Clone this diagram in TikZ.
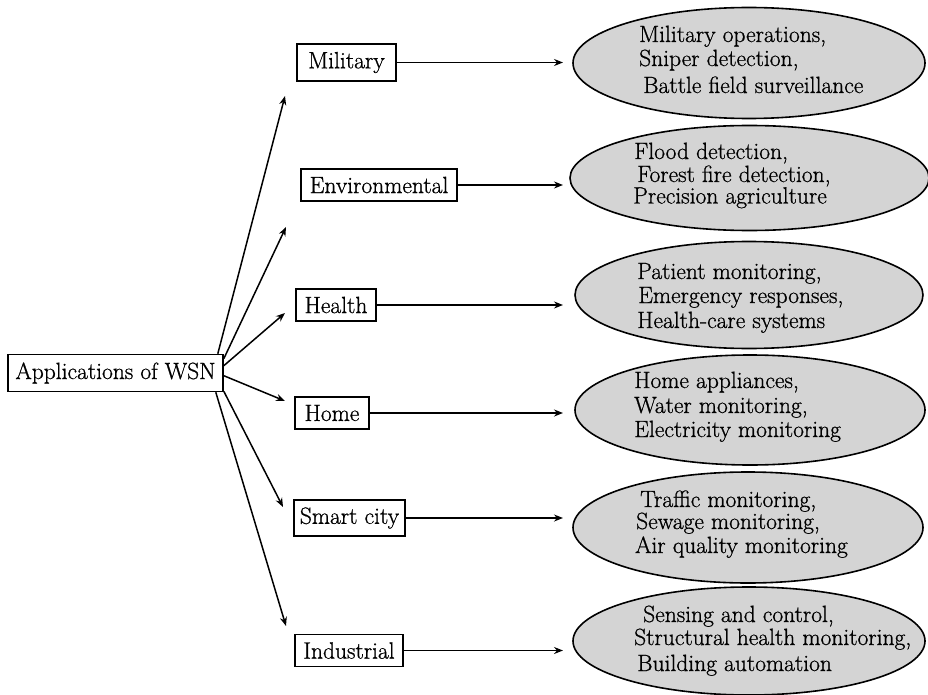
\documentclass[tikz,border=0pt]{standalone}
\usepackage{fontspec}
\setmainfont{Latin Modern Roman}[FakeBold=0.8]
\usetikzlibrary{arrows.meta,shapes.geometric}
\begin{document}
\begin{tikzpicture}[x=1pt,y=-1pt,
  every node/.style={font=\fontsize{23.5pt}{27pt}\selectfont},
  box/.style={draw,line width=1.6pt,inner sep=0pt,fill=white},
  oval/.style={draw,line width=1.6pt,ellipse,fill=black!17,inner sep=0pt},
  item/.style={anchor=base west,inner sep=0pt},
  arr/.style={line width=1.5pt,-{Stealth[length=9pt,width=7pt,inset=3pt]}}]
\useasboundingbox (0,0) rectangle (928,695);
% root
\node[box,minimum width=215pt,minimum height=37pt] (root) at (115.5,373) {Applications of WSN};
% category boxes
\node[box,minimum width=99pt,minimum height=37pt] (mil) at (346.5,62.5) {Military\hspace{5pt}};
\node[box,minimum width=156pt,minimum height=32pt] (env) at (379,185) {Environmental};
\node[box,minimum width=80pt,minimum height=32pt] (hea) at (336,305) {Health};
\node[box,minimum width=74pt,minimum height=32pt] (hom) at (332,413) {Home};
\node[box,minimum width=111pt,minimum height=36pt] (sma) at (349.5,518) {Smart city};
\node[box,minimum width=108pt,minimum height=32pt] (ind) at (349,650.5) {Industrial};
% ellipses
\node[oval,minimum width=352pt,minimum height=111pt] (e1) at (749,63) {};
\node[oval,minimum width=359pt,minimum height=105pt] (e2) at (749.5,178) {};
\node[oval,minimum width=348pt,minimum height=107pt] (e3) at (749,295) {};
\node[oval,minimum width=350pt,minimum height=110pt] (e4) at (750,410) {};
\node[oval,minimum width=350pt,minimum height=111pt] (e5) at (748,527.5) {};
\node[oval,minimum width=352pt,minimum height=108pt] (e6) at (749,641) {};
% ellipse texts
\node[item] (a1) at (639,42) {Military operations,};
\node[item] (a2) at (639,66) {Sniper detection,};
\node[item] (a3) at (643,93) {Battle field surveillance};
\node[item] (b1) at (634,159) {Flood detection,};
\node[item] (b2) at (637,182) {Forest fire detection,};
\node[item] (b3) at (633,203.5) {Precision agriculture};
\node[item] (c1) at (637,279) {Patient monitoring,};
\node[item] (c2) at (638,303) {Emergency responses,};
\node[item] (c3) at (637,328) {Health-care systems};
\node[item] (d1) at (634,388) {Home appliances,};
\node[item] (d2) at (634,413) {Water monitoring,};
\node[item] (d3) at (634,437) {Electricity monitoring};
\node[item] (f1) at (640,507) {Traffic monitoring,};
\node[item] (f2) at (636,529) {Sewage monitoring,};
\node[item] (f3) at (635,553) {Air quality monitoring};
\node[item] (g1) at (643,622) {Sensing and control,};
\node[item] (g2) at (634,645) {Structural health monitoring,};
\node[item] (g3) at (637,671) {Building automation};
% free ends
\coordinate (s1) at (285,96);
\coordinate (s2) at (286,227);
\coordinate (s3) at (285,313);
\coordinate (s4) at (285,401);
\coordinate (s5) at (283,507);
\coordinate (s6) at (286,626);
\coordinate (t1) at (563,62.5);
\coordinate (t2) at (563,185);
\coordinate (t3) at (563,305);
\coordinate (t4) at (563,413);
\coordinate (t5) at (563,518);
\coordinate (t6) at (563,650.5);
% root arrows
\draw[arr] ([xshift=-6pt]root.north east) -- (s1);
\draw[arr] ([yshift=-5pt]root.north east) -- (s2);
\draw[arr] ([yshift=-12pt]root.north east) -- (s3);
\draw[arr] ([yshift=-22pt]root.north east) -- (s4);
\draw[arr] ([yshift=1pt]root.south east) -- (s5);
\draw[arr] ([xshift=-8pt]root.south east) -- (s6);
% horizontal arrows
\draw[arr] (mil.east) -- (t1);
\draw[arr] (env.east) -- (t2);
\draw[arr] (hea.east) -- (t3);
\draw[arr] (hom.east) -- (t4);
\draw[arr] (sma.east) -- (t5);
\draw[arr] (ind.east) -- (t6);
\end{tikzpicture}
\end{document}
